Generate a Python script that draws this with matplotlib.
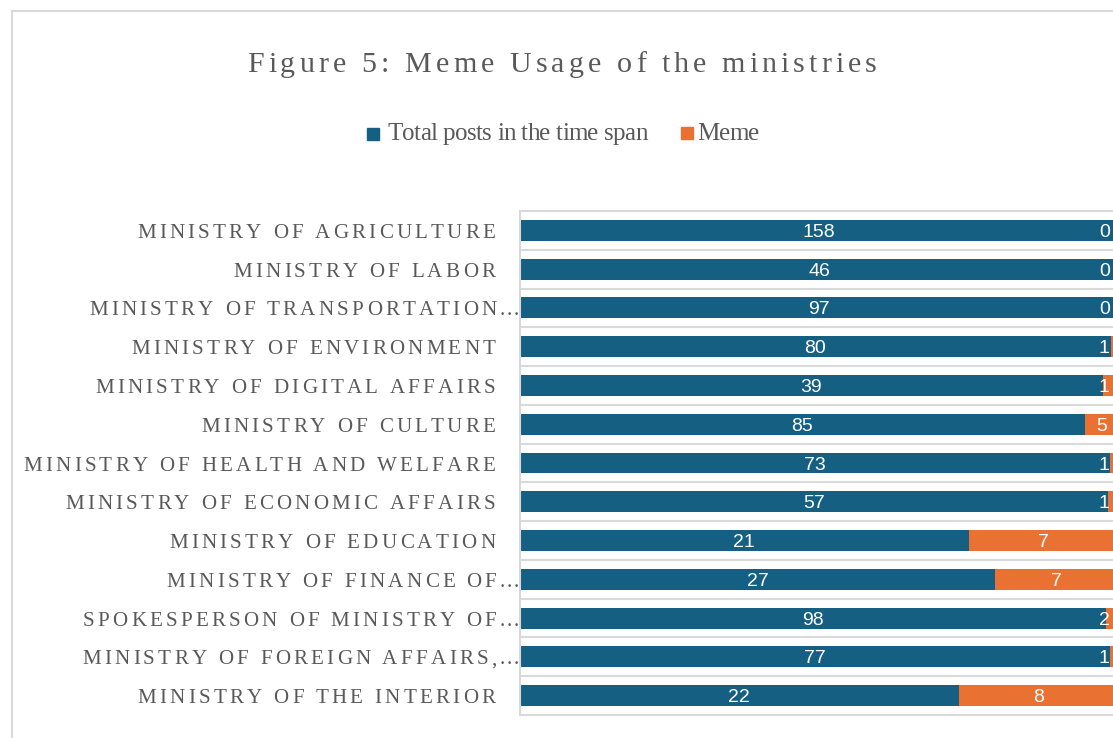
import numpy as np
import matplotlib
matplotlib.use("Agg")
from matplotlib import pyplot as plt
from matplotlib.patches import Rectangle
from matplotlib.lines import Line2D
from matplotlib.font_manager import findfont, FontProperties
from matplotlib.ft2font import FT2Font, LoadFlags

# chart data, top row first
ministries = [
    "MINISTRY OF AGRICULTURE",
    "MINISTRY OF LABOR",
    "MINISTRY OF TRANSPORTATION…",
    "MINISTRY OF ENVIRONMENT",
    "MINISTRY OF DIGITAL AFFAIRS",
    "MINISTRY OF CULTURE",
    "MINISTRY OF HEALTH AND WELFARE",
    "MINISTRY OF ECONOMIC AFFAIRS",
    "MINISTRY OF EDUCATION",
    "MINISTRY OF FINANCE OF…",
    "SPOKESPERSON OF MINISTRY OF…",
    "MINISTRY OF FOREIGN AFFAIRS,…",
    "MINISTRY OF THE INTERIOR",
]
total_posts = [158, 46, 97, 80, 39, 85, 73, 57, 21, 27, 98, 77, 22]
meme_posts = [0, 0, 0, 1, 1, 5, 1, 1, 7, 7, 2, 1, 8]
legend_labels = ["Total posts in the time span", "Meme"]
title = "Figure 5: Meme Usage of the ministries"

W, H = 1113, 738
BLUE = "#156082"
ORANGE = "#e97132"
GREY_TEXT = "#595959"
GREY_LINE = "#d9d9d9"
SERIF = "Liberation Serif"


def char_widths(s, size):
    font = FT2Font(findfont(FontProperties(family=SERIF)), hinting_factor=1)
    font.set_size(size, 72)
    return [font.load_char(ord(c), flags=LoadFlags.NO_HINTING).linearHoriAdvance / 65536 for c in s]


# matplotlib has no letter spacing, so each character is placed by hand
def tracked_text(ax, s, xy, xycoords, size, track, anchor="right", x0=0, dy=0, tail="", tail_track=0):
    w = char_widths(s, size)
    tw = char_widths(tail, size)
    total = sum(w) + track * (len(s) - 1)
    if tail:
        total += track + sum(tw) + tail_track * (len(tail) - 1)
    if anchor == "right":
        x = x0 - total
    elif anchor == "center":
        x = x0 - total / 2
    else:
        x = x0
    kw = dict(xycoords=xycoords, textcoords="offset points", ha="left", va="baseline",
              fontsize=size, family=SERIF, color=GREY_TEXT, annotation_clip=False)
    for c, cw in zip(s, w):
        ax.annotate(c, xy, xytext=(x, dy), **kw)
        x += cw + track
    for c, cw in zip(tail, tw):
        ax.annotate(c, xy, xytext=(x, dy), **kw)
        x += cw + tail_track


fig = plt.figure(figsize=(W / 100, H / 100), dpi=100)
ax = fig.add_axes([520 / W, 23 / H, 598 / W, 504 / H])

n = len(ministries)
y = np.arange(n)
tot = np.array(total_posts, dtype=float)
mem = np.array(meme_posts, dtype=float)
share_tot = tot / (tot + mem)
share_mem = mem / (tot + mem)

ax.barh(y, share_tot, height=0.54, color=BLUE, zorder=2)
ax.barh(y, share_mem, left=share_tot, height=0.54, color=ORANGE, zorder=2)

ax.set_xlim(0, 1)
ax.set_ylim(n - 0.5, -0.5)
ax.set_xticks([])
ax.set_yticks([])
for side in ["top", "right", "bottom"]:
    ax.spines[side].set_visible(False)
ax.spines["left"].set_color(GREY_LINE)
ax.spines["left"].set_linewidth(1.5)
ax.hlines(np.arange(-0.5, n), 0, 1, color=GREY_LINE, lw=1.5, zorder=1, clip_on=False)

# data labels
for i in range(n):
    ax.text(share_tot[i] / 2, i, str(total_posts[i]), ha="center", va="center_baseline",
            color="white", fontsize=14, family="Liberation Sans", zorder=3)
    mx = min(share_tot[i] + share_mem[i] / 2, 0.977)
    ax.text(mx, i, str(meme_posts[i]), ha="center", va="center_baseline",
            color="white", fontsize=14, family="Liberation Sans", zorder=3)

# category labels
lab_size = 15.1
for i, name in enumerate(ministries):
    if name.endswith("…"):
        tracked_text(ax, name[:-1], (0, i), ax.get_yaxis_transform(), lab_size, 2.4,
                     x0=-0.9, dy=-0.655 * lab_size / 2 - 0.5, tail="...", tail_track=1.2)
    else:
        tracked_text(ax, name, (0, i), ax.get_yaxis_transform(), lab_size, 2.4,
                     x0=-18, dy=-0.655 * lab_size / 2 - 0.5)

# title
tracked_text(ax, title, (562, H - 71.7), "figure pixels", 21.6, 2.78, anchor="center")

# legend
fig.add_artist(Rectangle((367 / W, 1 - 140 / H), 12 / W, 12 / H, transform=fig.transFigure, color=BLUE))
fig.add_artist(Rectangle((681 / W, 1 - 139 / H), 12 / W, 12 / H, transform=fig.transFigure, color=ORANGE))
tracked_text(ax, legend_labels[0], (387, H - 140), "figure pixels", 18, -0.4, anchor="left")
tracked_text(ax, legend_labels[1], (697, H - 140), "figure pixels", 18, -0.4, anchor="left")

# chart border
fig.add_artist(Line2D([11.5 / W, 11.5 / W], [0, 1 - 11 / H], transform=fig.transFigure, color=GREY_LINE, lw=1.5))
fig.add_artist(Line2D([11.5 / W, 1], [1 - 11 / H, 1 - 11 / H], transform=fig.transFigure, color=GREY_LINE, lw=1.5))

fig.savefig("out.png", dpi=100)
